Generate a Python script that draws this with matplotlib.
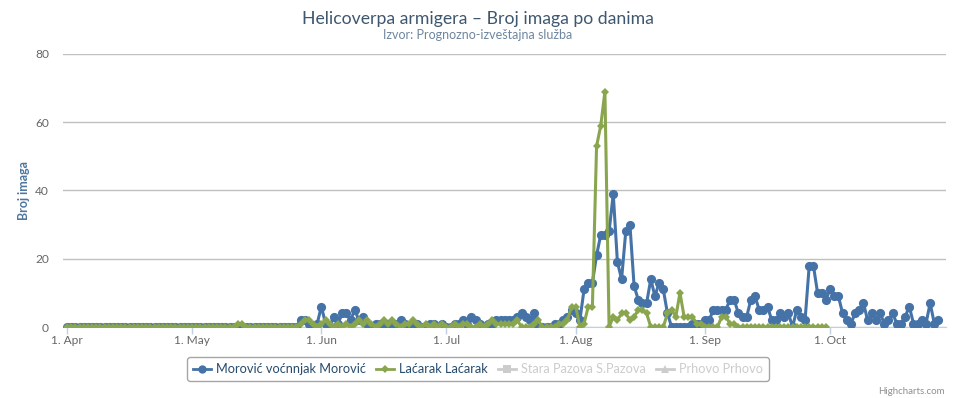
import matplotlib.pyplot as plt
from matplotlib.lines import Line2D
import numpy as np
import pandas as pd

# daily trap counts (Apr 1 .. Oct 27)
morovic_apr = [0, 0, 0, 0, 0, 0, 0, 0, 0, 0, 0, 0, 0, 0, 0, 0, 0, 0, 0, 0, 0, 0, 0, 0, 0, 0, 0, 0, 0, 0]
morovic_may = [0, 0, 0, 0, 0, 0, 0, 0, 0, 0, 0, 0, 0, 0, 0, 0, 0, 0, 0, 0, 0, 0, 0, 0, 0, 0, 2, 2, 1, 0, 1]
morovic_jun = [6, 1, 0, 3, 1, 4, 4, 2, 5, 2, 3, 1, 0, 1, 1, 0, 1, 0, 1, 2, 1, 0, 1, 1, 0, 0, 1, 1, 0, 1]
morovic_jul = [0, 0, 1, 1, 2, 1, 3, 2, 1, 0, 1, 1, 2, 2, 2, 2, 2, 3, 4, 3, 2, 4, 0, 0, 0, 0, 1, 1, 2, 3, 5]
morovic_aug = [4, 2, 11, 13, 13, 21, 27, 27, 28, 39, 19, 14, 28, 30, 12, 8, 7, 7, 14, 9, 13, 11, 4,
               0, 0, 0, 0, 0, 1, 1, 1]
morovic_sep = [2, 2, 5, 5, 5, 5, 8, 8, 4, 3, 3, 8, 9, 5, 5, 6, 2, 2, 4, 3, 4, 0, 5, 3, 2, 18, 18, 10, 10, 8]
morovic_oct = [11, 9, 9, 4, 2, 1, 4, 5, 7, 2, 4, 2, 4, 1, 2, 4, 1, 1, 3, 6, 1, 1, 2, 1, 7, 1, 2]

lacarak_apr = [0, 0, 0, 0, 0, 0, 0, 0, 0, 0, 0, 0, 0, 0, 0, 0, 0, 0, 0, 0, 0, 0, 0, 0, 0, 0, 0, 0, 0, 0]
lacarak_may = [0, 0, 0, 0, 0, 0, 0, 0, 0, 0, 0, 1, 1, 0, 0, 0, 0, 0, 0, 0, 0, 0, 0, 0, 0, 0, 1, 2, 2, 1, 0]
lacarak_jun = [1, 2, 1, 0, 1, 0, 1, 0, 1, 2, 1, 2, 1, 0, 1, 2, 1, 2, 1, 0, 1, 1, 2, 1, 0, 1, 0, 1, 0, 1]
lacarak_jul = [0, 0, 1, 0, 1, 1, 0, 0, 1, 0, 1, 2, 1, 1, 1, 1, 1, 2, 0, 0, 0, 1, 2, 0, 0, 0, 0, 1, 1, 2, 6]
lacarak_aug = [6, 0, 1, 6, 6, 53, 59, 69, 0, 3, 2, 4, 4, 2, 3, 5, 5, 4, 0, 0, 0, 0, 4, 5, 3, 10, 3, 3, 3, 1, 1]
lacarak_sep = [0, 0, 0, 0, 3, 3, 1, 1, 0, 0, 0, 0, 0, 0, 0, 0, 0, 0, 0, 0, 0, 0, 0, 0, 0, 0, 0, 0, 0, 0]

series_names = ["Morović voćnnjak Morović", "Laćarak Laćarak",
                "Stara Pazova S.Pazova", "Prhovo Prhovo"]
month_ticks = ["2014-04-01", "2014-05-01", "2014-06-01", "2014-07-01",
               "2014-08-01", "2014-09-01", "2014-10-01"]
month_labels = ["1. Apr", "1. May", "1. Jun", "1. Jul", "1. Aug", "1. Sep", "1. Oct"]
y_ticks = [0, 20, 40, 60, 80]

morovic = (morovic_apr + morovic_may + morovic_jun + morovic_jul
           + morovic_aug + morovic_sep + morovic_oct)
lacarak = (lacarak_apr + lacarak_may + lacarak_jun + lacarak_jul
           + lacarak_aug + lacarak_sep)
start = pd.Timestamp("2014-04-01")
dates_m = pd.date_range(start, periods=len(morovic), freq="D")
dates_l = pd.date_range(start, periods=len(lacarak), freq="D")

BLUE = "#4572A7"
GREEN = "#89A54E"
plt.rcParams["font.family"] = ["Lato", "DejaVu Sans"]

W, H = 956, 398
fig = plt.figure(figsize=(W / 100, H / 100), dpi=100)
left, right, top, bottom = 63, 946, 54, 327
ax = fig.add_axes([left / W, 1 - bottom / H, (right - left) / W, (bottom - top) / H])

ax.plot(dates_m, morovic, color=BLUE, lw=2.2, marker="o", ms=6.6, mew=0, zorder=3)
ax.plot(dates_l, lacarak, color=GREEN, lw=2.2, marker="D", ms=4.2, mew=0, zorder=4)

ax.set_ylim(0, 80)
ax.set_yticks(y_ticks)
ax.set_xlim(start - pd.Timedelta(days=0.96), start + pd.Timedelta(days=210.8))
ax.set_xticks(pd.to_datetime(month_ticks))
ax.set_xticklabels(month_labels)

ax.grid(axis="y", color="#C0C0C0", lw=1)
ax.set_axisbelow(True)
for s in ["top", "right", "left"]:
    ax.spines[s].set_visible(False)
ax.spines["bottom"].set_color("#C0D0E0")
ax.tick_params(axis="x", colors="#C0D0E0", length=5, width=1, labelcolor="#666666",
               labelsize=8.6, pad=1)
ax.tick_params(axis="y", length=0, labelcolor="#666666", labelsize=8.6, pad=10)

ax.set_ylabel("Broj imaga", color="#4D759E", fontsize=9, fontweight="bold", labelpad=4)

fig.text(0.5, 1 - 19 / H, "Helicoverpa armigera – Broj imaga po danima",
         ha="center", va="center", fontsize=12.7, color="#3E576F")
fig.text(0.5, 1 - 35 / H, "Izvor: Prognozno-izveštajna služba",
         ha="center", va="center", fontsize=9, color="#6D869F")
fig.text(1 - 11 / W, 1 - 391 / H, "Highcharts.com", ha="right", va="center",
         fontsize=7, color="#909090")

handles = [
    Line2D([], [], color=BLUE, lw=2, marker="o", ms=6, mew=0),
    Line2D([], [], color=GREEN, lw=2, marker="D", ms=4.5, mew=0),
    Line2D([], [], color="#CCCCCC", lw=2, marker="s", ms=5.5, mew=0),
    Line2D([], [], color="#CCCCCC", lw=2, marker="^", ms=6, mew=0),
]
leg = fig.legend(handles, series_names, loc="center", bbox_to_anchor=(478 / W, 1 - 369 / H),
                 ncol=4, frameon=True, fancybox=True, fontsize=9.2, handlelength=1.4,
                 handletextpad=0.4, columnspacing=0.8, borderpad=0.45)
leg.get_frame().set_edgecolor("#909090")
leg.get_frame().set_linewidth(1)
for txt, c in zip(leg.get_texts(), ["#274B6D", "#274B6D", "#CCCCCC", "#CCCCCC"]):
    txt.set_color(c)

fig.savefig("out.png", dpi=100)
